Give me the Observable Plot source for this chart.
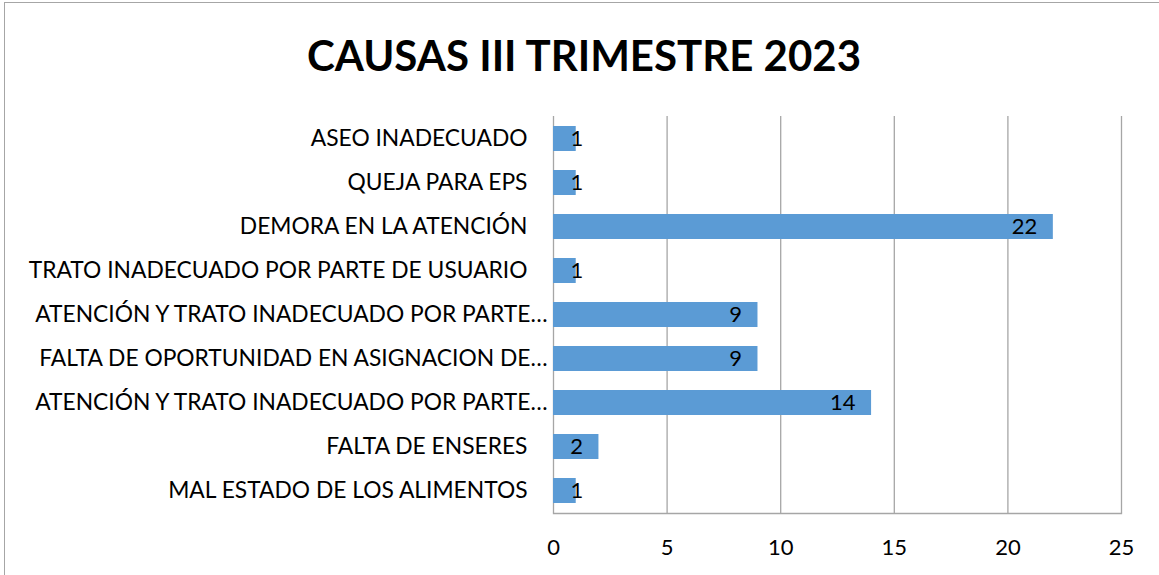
<!DOCTYPE html>
<html>
<head>
<meta charset="utf-8">
<script src="https://cdn.jsdelivr.net/npm/d3@7"></script>
<script src="https://cdn.jsdelivr.net/npm/@observablehq/plot@0.6"></script>
<style>
  html, body { margin: 0; padding: 0; background: #fff; overflow: hidden; }
  #wrap { position: relative; width: 1159px; height: 575px; overflow: hidden; font-family: Lato, "Open Sans", sans-serif; }
  #frame { position: absolute; left: 4px; top: 2px; width: 1200px; height: 620px; border: 1.5px solid #a6a6a6; box-sizing: border-box; }
  #title { position: absolute; left: 0; top: 0; width: 1168px; height: 100px; text-align: center; font-weight: 700; font-size: 42px; line-height: 110px; color: #000; }
  #chart { position: absolute; left: 0; top: 100px; }
</style>
</head>
<body>
<div id="wrap">
  <div id="frame"></div>
  <div id="title">CAUSAS III TRIMESTRE 2023</div>
  <div id="chart"></div>
</div>
<script>
const categories = [
  "ASEO INADECUADO",
  "QUEJA PARA EPS",
  "DEMORA EN LA ATENCIÓN",
  "TRATO INADECUADO POR PARTE DE USUARIO",
  "ATENCIÓN Y TRATO INADECUADO POR PARTE…",
  "FALTA DE OPORTUNIDAD EN ASIGNACION DE…",
  "ATENCIÓN Y TRATO INADECUADO POR PARTE…",
  "FALTA DE ENSERES",
  "MAL ESTADO DE LOS ALIMENTOS"
];
const values = [1, 1, 22, 1, 9, 9, 14, 2, 1];
const xTicks = [0, 5, 10, 15, 20, 25];

const data = categories.map((c, i) => ({key: String(i), label: c, value: values[i]}));
const keys = data.map(d => d.key);
const truncKeys = data.filter(d => d.label.endsWith("…")).map(d => d.key);
const fullKeys = data.filter(d => !d.label.endsWith("…")).map(d => d.key);
const fmt = k => categories[+k];

const chart = Plot.plot({
  width: 1159,
  height: 475,
  marginLeft: 553,
  marginRight: 38,
  marginTop: 16,
  marginBottom: 62,
  style: {fontFamily: "Lato, 'Open Sans', sans-serif", fontSize: "22px", color: "#000", background: "transparent"},
  x: {domain: [0, 25]},
  y: {domain: keys, paddingInner: 0.44, paddingOuter: 0.22},
  marks: [
    Plot.gridX(xTicks, {stroke: "#a6a6a6", strokeOpacity: 1, strokeWidth: 1.3}),
    Plot.frame({anchor: "bottom", stroke: "#a6a6a6", strokeWidth: 1.3}),
    Plot.barX(data, {y: "key", x: "value", fill: "#5b9bd5"}),
    Plot.text(data.filter(d => d.value >= 2), {y: "key", x: "value", text: d => String(d.value), textAnchor: "end", dx: -16, fontSize: 22, fill: "#000"}),
    Plot.text(data.filter(d => d.value < 2), {y: "key", x: 0, text: d => String(d.value), textAnchor: "start", dx: 17, fontSize: 22, fill: "#000"}),
    Plot.axisX(xTicks, {tickSize: 0, tickPadding: 26, fontSize: 22, label: null}),
    Plot.axisY(fullKeys, {tickSize: 0, tickPadding: 26, tickFormat: fmt, fontSize: 22.8, label: null}),
    Plot.axisY(truncKeys, {tickSize: 0, tickPadding: 6, tickFormat: fmt, fontSize: 22.8, label: null})
  ]
});
document.getElementById("chart").appendChild(chart);
</script>
</body>
</html>
